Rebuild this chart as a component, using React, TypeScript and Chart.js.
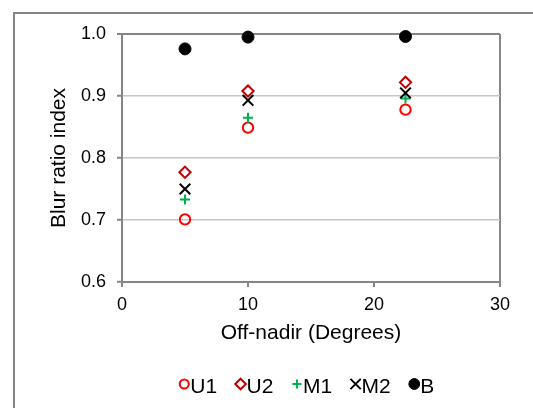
import React, { useEffect, useRef } from "react";
import { Chart, registerables } from "chart.js";

Chart.register(...registerables);

// ---- data ----
const offNadir = [5, 10, 22.5];
const seriesNames = ["U1", "U2", "M1", "M2", "B"];
const u1Values = [0.701, 0.849, 0.878];
const u2Values = [0.777, 0.908, 0.922];
const m1Values = [0.733, 0.865, 0.896];
const m2Values = [0.75, 0.893, 0.905];
const bValues = [0.976, 0.995, 0.996];
const xTickValues = [0, 10, 20, 30];
const yTickValues = [0.6, 0.7, 0.8, 0.9, 1.0];
const xTitle = "Off-nadir (Degrees)";
const yTitle = "Blur ratio index";

const FONT = "'Liberation Sans', Arial, sans-serif";
const AXIS = "#868686";
const GRID = "#c6c6c6";

type MarkerSpec = {
  style: string;
  color: string;
  fill: string;
  radius: number;
  legendRadius: number;
  lw: number;
};

const markers: MarkerSpec[] = [
  { style: "circle", color: "#ff0000", fill: "rgba(0,0,0,0)", radius: 5.2, legendRadius: 4.5, lw: 2 },
  { style: "rectRot", color: "#c00000", fill: "rgba(0,0,0,0)", radius: 5.6, legendRadius: 5.3, lw: 2 },
  { style: "cross", color: "#00b050", fill: "rgba(0,0,0,0)", radius: 5, legendRadius: 4.5, lw: 2 },
  { style: "crossRot", color: "#000000", fill: "rgba(0,0,0,0)", radius: 7.5, legendRadius: 7.3, lw: 2 },
  { style: "circle", color: "#000000", fill: "#000000", radius: 6, legendRadius: 5.4, lw: 1 },
];

function drawMarker(ctx: CanvasRenderingContext2D, m: MarkerSpec, x: number, y: number, r: number) {
  ctx.save();
  ctx.lineWidth = m.lw;
  ctx.strokeStyle = m.color;
  ctx.fillStyle = m.fill;
  ctx.beginPath();
  if (m.style === "circle") {
    ctx.arc(x, y, r, 0, Math.PI * 2);
    ctx.closePath();
    ctx.fill();
    ctx.stroke();
  } else if (m.style === "rectRot") {
    ctx.moveTo(x, y - r);
    ctx.lineTo(x + r, y);
    ctx.lineTo(x, y + r);
    ctx.lineTo(x - r, y);
    ctx.closePath();
    ctx.fill();
    ctx.stroke();
  } else if (m.style === "cross") {
    ctx.moveTo(x - r, y);
    ctx.lineTo(x + r, y);
    ctx.moveTo(x, y - r);
    ctx.lineTo(x, y + r);
    ctx.stroke();
  } else {
    const d = r * Math.SQRT1_2;
    ctx.moveTo(x - d, y - d);
    ctx.lineTo(x + d, y + d);
    ctx.moveTo(x + d, y - d);
    ctx.lineTo(x - d, y + d);
    ctx.stroke();
  }
  ctx.restore();
}

const framePlugin = {
  id: "frame",
  beforeDraw(chart: any) {
    const ctx = chart.ctx as CanvasRenderingContext2D;
    ctx.save();
    ctx.fillStyle = AXIS;
    ctx.fillRect(13, 12, 540, 2);
    ctx.fillRect(13, 12, 2, 420);
    ctx.restore();
  },
};

const legendPlugin = {
  id: "customLegend",
  afterDraw(chart: any) {
    const ctx = chart.ctx as CanvasRenderingContext2D;
    ctx.save();
    ctx.font = `21px ${FONT}`;
    ctx.textBaseline = "alphabetic";
    ctx.textAlign = "left";
    const gapText = 6;
    const gapItem = 23.5;
    const widths = seriesNames.map((n) => ctx.measureText(n).width);
    let total = 0;
    widths.forEach((w, i) => {
      total += gapText + w + (i < widths.length - 1 ? gapItem : 0);
    });
    const firstR = markers[0].legendRadius;
    total += firstR;
    const center = 307;
    let x = center - total / 2 + firstR;
    const yMarker = 384;
    const yText = 393;
    seriesNames.forEach((name, i) => {
      drawMarker(ctx, markers[i], x, yMarker, markers[i].legendRadius);
      ctx.fillStyle = "#000";
      ctx.fillText(name, x + gapText, yText);
      x += gapText + widths[i] + gapItem;
    });
    ctx.restore();
  },
};

function toPoints(vals: number[]) {
  return offNadir.map((x, i) => ({ x, y: vals[i] }));
}

export default function App() {
  const ref = useRef<HTMLCanvasElement | null>(null);

  useEffect(() => {
    if (!ref.current) return;
    const allValues = [u1Values, u2Values, m1Values, m2Values, bValues];
    const chart = new Chart(ref.current, {
      type: "scatter",
      data: {
        datasets: allValues.map((vals, i) => ({
          label: seriesNames[i],
          data: toPoints(vals),
          showLine: false,
          pointStyle: markers[i].style,
          pointRadius: markers[i].radius,
          pointHoverRadius: markers[i].radius,
          pointBorderWidth: markers[i].lw,
          borderColor: markers[i].color,
          backgroundColor: markers[i].fill,
          clip: false,
          order: seriesNames.length - i,
        })) as any,
      },
      options: {
        responsive: false,
        animation: false,
        events: [],
        layout: { padding: { left: 0, top: 34, right: 33, bottom: 56 } },
        plugins: {
          legend: { display: false },
          tooltip: { enabled: false },
        },
        scales: {
          x: {
            type: "linear",
            position: "bottom",
            min: 0,
            max: 30,
            afterBuildTicks: (s: any) => {
              s.ticks = xTickValues.map((v) => ({ value: v }));
            },
            ticks: {
              font: { family: FONT, size: 18 },
              color: "#000",
              padding: 7,
              maxRotation: 0,
              callback: (v: any) => String(v),
            },
            grid: {
              color: (c: any) => (c.tick && c.tick.value >= 29.99 ? AXIS : "rgba(0,0,0,0)"),
              lineWidth: 2,
              tickColor: AXIS,
              tickLength: 5,
              tickWidth: 2,
            },
            border: { color: AXIS, width: 2 },
            title: {
              display: true,
              text: xTitle,
              color: "#000",
              font: { family: FONT, size: 21 },
              padding: { top: 0, bottom: 6 },
            },
            afterFit: (s: any) => {
              s.height = 70;
            },
          },
          y: {
            type: "linear",
            min: 0.6,
            max: 1.0,
            afterBuildTicks: (s: any) => {
              s.ticks = yTickValues.map((v) => ({ value: v }));
            },
            ticks: {
              font: { family: FONT, size: 18 },
              color: "#000",
              padding: 11,
              callback: (v: any) => Number(v).toFixed(1),
            },
            grid: {
              color: (c: any) => {
                const v = c.tick ? c.tick.value : 0;
                if (v >= 0.999) return AXIS;
                if (v <= 0.601) return "rgba(0,0,0,0)";
                return GRID;
              },
              lineWidth: (c: any) => (c.tick && c.tick.value >= 0.999 ? 2 : 1.5),
              tickColor: AXIS,
              tickLength: 5,
              tickWidth: 2,
            },
            border: { color: AXIS, width: 2 },
            title: {
              display: true,
              text: yTitle,
              color: "#000",
              font: { family: FONT, size: 21 },
              padding: { top: 47, bottom: 0 },
            },
            afterFit: (s: any) => {
              s.width = 122;
            },
          },
        },
      } as any,
      plugins: [framePlugin, legendPlugin],
    });
    return () => chart.destroy();
  }, []);

  return (
    <div style={{ position: "fixed", left: 0, top: 0, width: 533, height: 408, background: "#fff" }}>
      <canvas ref={ref} width={533} height={408} style={{ display: "block", width: 533, height: 408 }} />
    </div>
  );
}
